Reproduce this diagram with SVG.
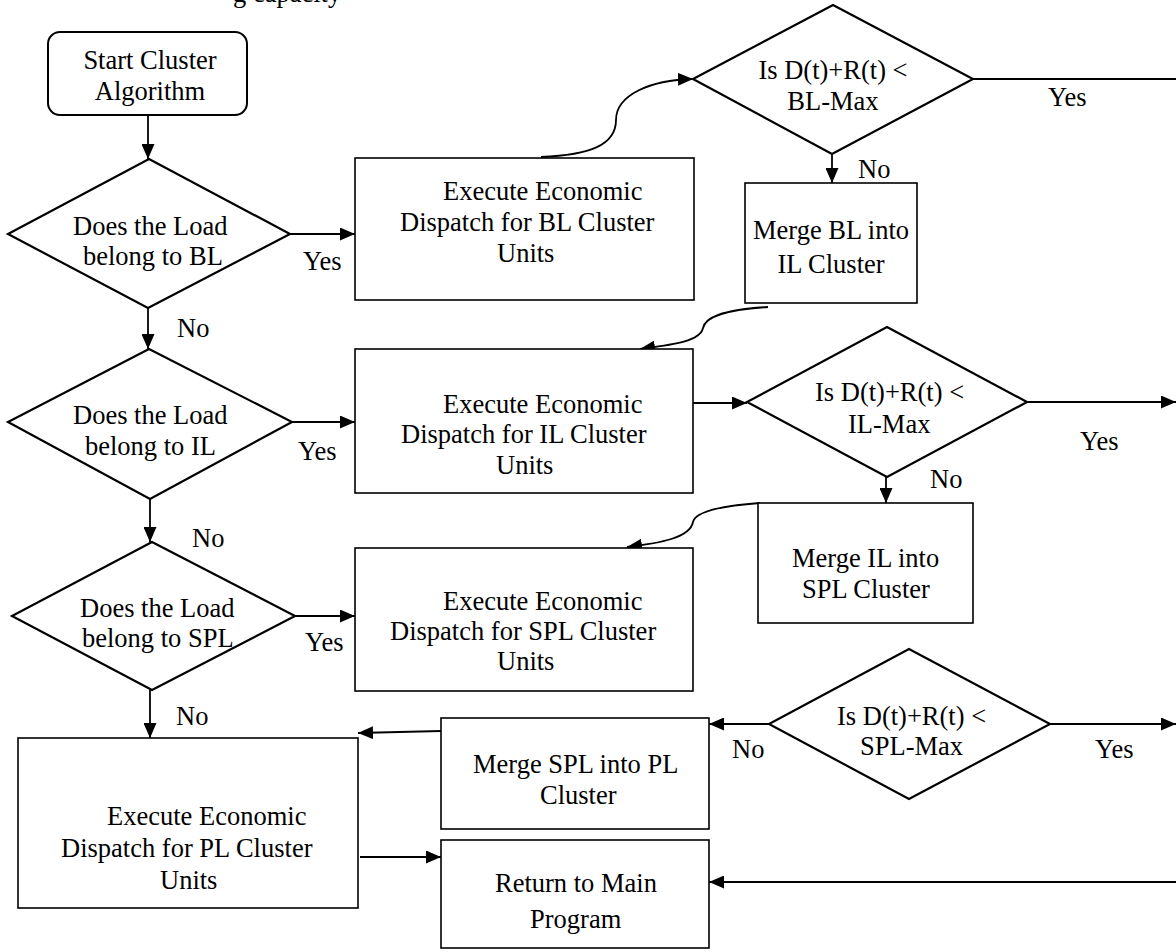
<svg xmlns="http://www.w3.org/2000/svg" width="1176" height="952" viewBox="0 0 1176 952">
<defs>
<marker id="ah" markerUnits="userSpaceOnUse" markerWidth="15" markerHeight="13" refX="15" refY="6.5" orient="auto">
<path d="M0,0 L15,6.5 L0,13 z" fill="#000"/>
</marker>
<style>
text{font-family:"Liberation Serif","Times New Roman",serif;font-size:26.5px;fill:#000}
.box{fill:#fff;stroke:#000;stroke-width:1.6}
.dia{fill:#fff;stroke:#000;stroke-width:2.2}
.con{fill:none;stroke:#000;stroke-width:1.8}
.arr{fill:none;stroke:#000;stroke-width:1.8;marker-end:url(#ah)}
.c{text-anchor:middle}
</style>
</defs>
<rect width="1176" height="952" fill="#fff"/>
<text x="233" y="2">g capacity</text>

<g id="connectors">
<path class="arr" d="M148,115 V159"/>
<path class="arr" d="M290,234 H355"/>
<path class="arr" d="M148,308 V349"/>
<path class="arr" d="M292,422 H355"/>
<path class="arr" d="M150,499 V542"/>
<path class="arr" d="M295,616 H355"/>
<path class="arr" d="M150,690 V738"/>
<path class="arr" d="M541,157 C590,155 616,145 616,120 C616,95 650,80 693,79"/>
<path class="arr" d="M832,154 V183"/>
<path class="con" d="M973,79 H1176"/>
<path class="arr" d="M768,307 C720,310 705,318 703,328 C700,342 670,345 640,349"/>
<path class="arr" d="M693,403 H747"/>
<path class="arr" d="M1027,402 H1176"/>
<path class="arr" d="M886,477 V503"/>
<path class="arr" d="M760,503 C720,506 695,512 693,522 C690,538 660,543 627,547"/>
<path class="arr" d="M769,724 H709"/>
<path class="arr" d="M1050,724 H1176"/>
<path class="arr" d="M441,731 L358,733"/>
<path class="arr" d="M360,857 H441"/>
<path class="arr" d="M1176,882 H709"/>
</g>

<g id="labels">
<text x="303" y="270">Yes</text>
<text x="177" y="337">No</text>
<text x="298" y="460">Yes</text>
<text x="192" y="547">No</text>
<text x="305" y="651">Yes</text>
<text x="176" y="725">No</text>
<text x="858" y="178">No</text>
<text x="1048" y="106">Yes</text>
<text x="1080" y="450">Yes</text>
<text x="930" y="488">No</text>
<text x="732" y="758">No</text>
<text x="1095" y="758">Yes</text>
</g>

<g id="start">
<rect x="48" y="32" width="199" height="83" rx="12" fill="#fff" stroke="#000" stroke-width="2"/>
<text class="c" x="150" y="69">Start Cluster</text>
<text class="c" x="150" y="100">Algorithm</text>
</g>

<g id="dec-bl">
<polygon class="dia" points="149,159 290,234 148,308 8,234"/>
<text x="73" y="235">Does the Load</text>
<text x="83" y="265">belong to BL</text>
</g>

<g id="dec-il">
<polygon class="dia" points="149,349 292,422 150,499 8,422"/>
<text x="73" y="424">Does the Load</text>
<text x="85" y="455">belong to IL</text>
</g>

<g id="dec-spl">
<polygon class="dia" points="152,542 295,616 152,690 12,616"/>
<text x="80" y="617">Does the Load</text>
<text x="82" y="647">belong to SPL</text>
</g>

<g id="ed-bl">
<rect class="box" x="355" y="158" width="339" height="142"/>
<text x="443" y="200">Execute Economic</text>
<text x="400" y="231">Dispatch for BL Cluster</text>
<text x="497" y="262">Units</text>
</g>

<g id="ed-il">
<rect class="box" x="355" y="349" width="338" height="144"/>
<text x="443" y="413">Execute Economic</text>
<text x="401" y="443">Dispatch for IL Cluster</text>
<text x="496" y="474">Units</text>
</g>

<g id="ed-spl">
<rect class="box" x="355" y="548" width="338" height="143"/>
<text x="443" y="610">Execute Economic</text>
<text x="390" y="640">Dispatch for SPL Cluster</text>
<text x="497" y="670">Units</text>
</g>

<g id="ed-pl">
<rect class="box" x="18" y="738" width="340" height="170"/>
<text x="107" y="825">Execute Economic</text>
<text x="61" y="857">Dispatch for PL Cluster</text>
<text x="160" y="889">Units</text>
</g>

<g id="dec-blmax">
<polygon class="dia" points="833,5 973,79 832,154 693,79"/>
<text class="c" x="833" y="79">Is D(t)+R(t) &lt;</text>
<text class="c" x="833" y="110">BL-Max</text>
</g>

<g id="merge-bl">
<rect class="box" x="745" y="183" width="172" height="120"/>
<text class="c" x="831" y="239">Merge BL into</text>
<text class="c" x="831" y="273">IL Cluster</text>
</g>

<g id="dec-ilmax">
<polygon class="dia" points="887,327 1027,402 887,477 747,402"/>
<text x="815" y="401">Is D(t)+R(t) &lt;</text>
<text x="848" y="433">IL-Max</text>
</g>

<g id="merge-il">
<rect class="box" x="758" y="503" width="215" height="120"/>
<text x="792" y="567">Merge IL into</text>
<text x="802" y="598">SPL Cluster</text>
</g>

<g id="dec-splmax">
<polygon class="dia" points="909,649 1050,724 909,799 769,724"/>
<text x="837" y="725">Is D(t)+R(t) &lt;</text>
<text x="860" y="755">SPL-Max</text>
</g>

<g id="merge-spl">
<rect class="box" x="441" y="718" width="268" height="111"/>
<text x="473" y="773">Merge SPL into PL</text>
<text x="540" y="804">Cluster</text>
</g>

<g id="return">
<rect class="box" x="441" y="840" width="268" height="108"/>
<text x="495" y="892">Return to Main</text>
<text x="530" y="928">Program</text>
</g>
</svg>
